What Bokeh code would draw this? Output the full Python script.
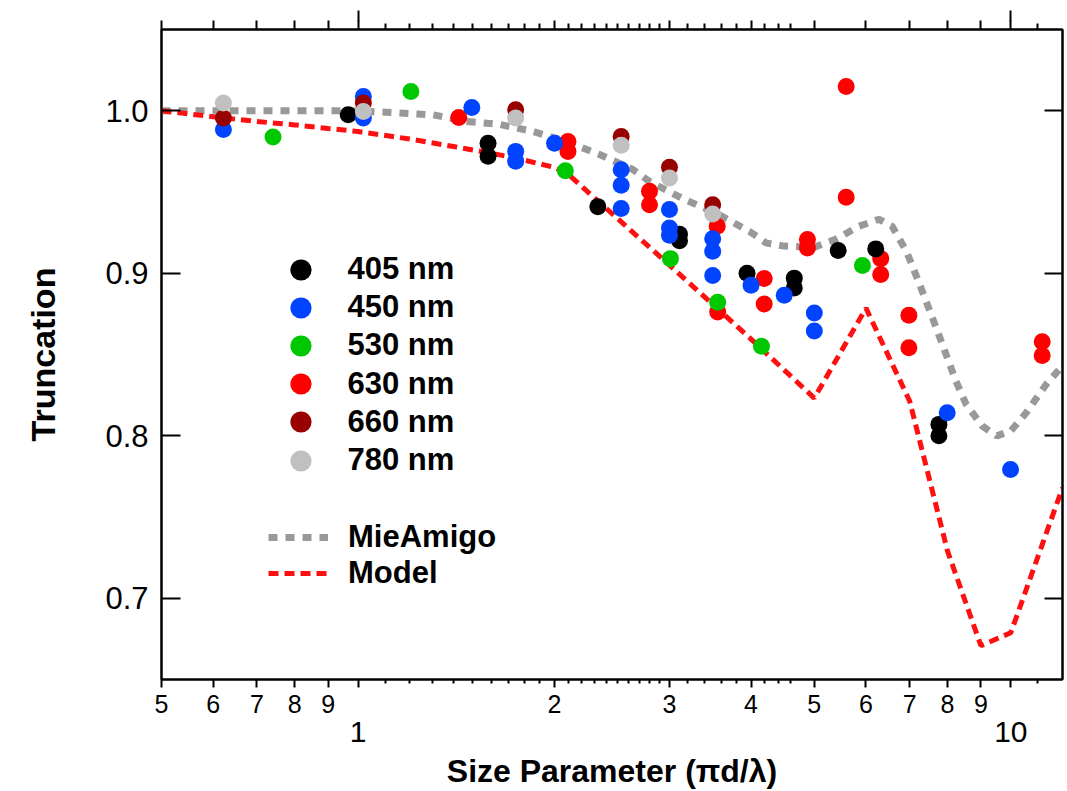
from bokeh.plotting import figure
from bokeh.models import (LogAxis, LinearAxis, FixedTicker, Legend, LegendItem,
                          PrintfTickFormatter, BasicTickFormatter)
from bokeh.embed import file_html
from bokeh.resources import INLINE

# ---------------- data ----------------
x405 = [0.966, 1.582, 1.582, 2.33, 3.108, 3.108, 3.944, 4.659, 4.659, 5.439, 6.21, 7.76, 7.76]
y405 = [0.9975, 0.980, 0.972, 0.941, 0.924, 0.920, 0.900, 0.897, 0.891, 0.914, 0.915, 0.807, 0.800]

x450 = [0.622, 1.019, 1.019, 1.494, 1.744, 1.744, 2.0, 2.53, 2.53, 2.53, 3.0, 3.0, 3.0,
        3.494, 3.494, 3.494, 4.0, 4.497, 5.0, 5.0, 7.99, 9.99]
y450 = [0.9885, 1.0088, 0.9955, 1.002, 0.975, 0.969, 0.980, 0.9637, 0.9541, 0.9398, 0.9392,
        0.9278, 0.9234, 0.9213, 0.9135, 0.8986, 0.8926, 0.8865, 0.8756, 0.8644, 0.8141, 0.7793]

x530 = [0.741, 1.205, 2.078, 3.01, 3.556, 4.15, 5.925]
y530 = [0.9838, 1.0119, 0.9631, 0.909, 0.8822, 0.8551, 0.9047]

x630 = [1.427, 2.097, 2.097, 2.796, 2.796, 3.55, 3.556, 4.19, 4.19, 4.88, 4.88, 5.595, 5.595,
        6.32, 6.32, 6.98, 6.98, 11.17, 11.17]
y630 = [0.9959, 0.9811, 0.975, 0.9504, 0.9422, 0.9289, 0.8762, 0.8967, 0.8811, 0.9207, 0.9156,
        1.0149, 0.9467, 0.909, 0.8992, 0.8742, 0.8541, 0.8578, 0.8494]

x660 = [0.622, 1.019, 1.744, 2.53, 3.0, 3.494]
y660 = [0.9955, 1.0047, 1.0006, 0.9842, 0.9652, 0.9422]

x780 = [0.622, 1.019, 1.744, 2.53, 3.0, 3.494]
y780 = [1.0047, 0.9996, 0.9955, 0.9787, 0.9586, 0.9364]

mie_x = [0.5, 1.0, 1.302, 1.468, 1.648, 1.852, 2.087, 2.344, 2.633, 2.795, 3.14, 3.54, 3.976,
         4.222, 4.5, 5.0, 5.4, 5.85, 6.28, 6.58, 6.92, 7.25, 7.69, 8.24, 8.54, 9.04, 9.52, 10.0,
         10.55, 11.34, 12.0]
mie_y = [1.0, 1.0, 0.9975, 0.9934, 0.9916, 0.9873, 0.9811, 0.9731, 0.964, 0.9565, 0.946, 0.9369,
         0.9258, 0.9186, 0.9167, 0.916, 0.921, 0.9289, 0.9332, 0.9289, 0.9135, 0.8932, 0.8662,
         0.8336, 0.8195, 0.806, 0.7999, 0.803, 0.814, 0.8318, 0.843]

model_x = [0.5, 0.6, 0.7, 0.8, 0.9, 1.0, 1.2, 1.4, 1.6, 1.8, 2.0, 2.1, 3.0, 4.0, 5.0, 6.0, 7.0,
           8.0, 9.0, 10.0, 12.0]
model_y = [1.0, 0.9963, 0.9934, 0.9913, 0.9891, 0.9872, 0.9826, 0.978, 0.9739, 0.9696, 0.9651,
           0.9608, 0.905, 0.8595, 0.8232, 0.8785, 0.8213, 0.729, 0.6708, 0.6788, 0.768]

labeled_ticks = [0.5, 0.6, 0.7, 0.8, 0.9, 2, 3, 4, 5, 6, 7, 8, 9]
labeled_text = ["5", "6", "7", "8", "9", "2", "3", "4", "5", "6", "7", "8", "9"]
decade_ticks = [1, 10]
minor_ticks = [1.1, 1.2, 1.3, 1.4, 1.5, 1.6, 1.7, 1.8, 1.9,
               2.1, 2.2, 2.3, 2.4, 2.5, 2.6, 2.7, 2.8, 2.9,
               3.2, 3.4, 3.6, 3.8, 4.2, 4.4, 4.6, 11]
y_ticks = [0.7, 0.8, 0.9, 1.0]

series_labels = ["405 nm", "450 nm", "530 nm", "630 nm", "660 nm", "780 nm"]
line_labels = ["MieAmigo", "Model"]

FONT = "Liberation Sans"

# ---------------- figure ----------------
p = figure(width=1067, height=791, x_axis_type="log", x_range=(0.5, 12), y_range=(0.65, 1.05),
           output_backend="svg", toolbar_location=None,
           min_border_left=161, min_border_right=5, min_border_top=29, min_border_bottom=112)
p.xgrid.visible = False
p.ygrid.visible = False
p.outline_line_color = "black"
p.outline_line_width = 2
p.background_fill_color = "white"
p.border_fill_color = "white"

def style_common(ax):
    ax.axis_line_color = "black"
    ax.axis_line_width = 2
    ax.major_tick_line_color = "black"
    ax.major_tick_line_width = 2
    ax.minor_tick_line_color = "black"
    ax.minor_tick_line_width = 2
    ax.major_label_text_color = "black"
    ax.major_label_text_font = FONT

def hide_labels(ax, ticks):
    ax.major_label_overrides = {t: "" for t in ticks}
    ax.major_label_text_font_size = "0px"
    ax.major_label_standoff = 0

# bottom axis 1: labelled ticks
a1 = p.xaxis[0]
style_common(a1)
a1.ticker = FixedTicker(ticks=labeled_ticks + decade_ticks, minor_ticks=minor_ticks)
ov = {t: s for t, s in zip(labeled_ticks, labeled_text)}
ov.update({t: "" for t in decade_ticks})
a1.major_label_overrides = ov
a1.major_tick_in = 0
a1.major_tick_out = 8
a1.minor_tick_in = 0
a1.minor_tick_out = 4
a1.major_label_text_font_size = "25px"
a1.major_label_standoff = 7

# bottom axis 2: decade labels and title
a2 = LogAxis(ticker=FixedTicker(ticks=decade_ticks, minor_ticks=[]), formatter=BasicTickFormatter())
style_common(a2)
a2.axis_line_color = None
a2.major_tick_line_color = None
a2.minor_tick_line_color = None
a2.major_tick_in = 0
a2.major_tick_out = 0
a2.major_label_standoff = 6
a2.major_label_text_font_size = "30px"
a2.axis_label = "Size Parameter (\u03c0d/\u03bb)"
a2.axis_label_text_font = FONT
a2.axis_label_text_font_style = "bold"
a2.axis_label_text_font_size = "32px"
a2.axis_label_text_color = "black"
a2.axis_label_standoff = 8
p.add_layout(a2, "below")

# top axis 1
t1 = LogAxis(ticker=FixedTicker(ticks=labeled_ticks + decade_ticks, minor_ticks=minor_ticks))
style_common(t1)
hide_labels(t1, labeled_ticks + decade_ticks)
t1.major_tick_in = 0
t1.major_tick_out = 9
t1.minor_tick_in = 0
t1.minor_tick_out = 6
p.add_layout(t1, "above")

# top axis 2: long decade ticks
t2 = LogAxis(ticker=FixedTicker(ticks=decade_ticks, minor_ticks=[]))
style_common(t2)
hide_labels(t2, decade_ticks)
t2.axis_line_color = None
t2.minor_tick_line_color = None
t2.major_tick_in = 1
t2.major_tick_out = 10
p.add_layout(t2, "above")

# left axis
ly = p.yaxis[0]
style_common(ly)
ly.ticker = FixedTicker(ticks=y_ticks, minor_ticks=[])
ly.formatter = PrintfTickFormatter(format="%.1f")
ly.major_tick_in = 19
ly.major_tick_out = 0
ly.minor_tick_line_color = None
ly.major_label_text_font_size = "31px"
ly.major_label_standoff = 13
ly.axis_label = "Truncation"
ly.axis_label_text_font = FONT
ly.axis_label_text_font_style = "bold"
ly.axis_label_text_font_size = "34px"
ly.axis_label_text_color = "black"
ly.axis_label_standoff = 40

# right axis
ry = LinearAxis(ticker=FixedTicker(ticks=y_ticks, minor_ticks=[]))
style_common(ry)
hide_labels(ry, y_ticks)
ry.major_tick_in = 18
ry.major_tick_out = 0
ry.minor_tick_line_color = None
p.add_layout(ry, "right")

# ---------------- glyphs ----------------
r_mie = p.line(mie_x, mie_y, line_color="#999999", line_width=7, line_dash="9 8")
r_mod = p.line(model_x, model_y, line_color="#ff1010", line_width=5, line_dash="10 6")

S = 17
r630 = p.scatter(x630, y630, size=S, fill_color="#ff0000", line_color=None)
r405 = p.scatter(x405, y405, size=S, fill_color="#000000", line_color=None)
r450 = p.scatter(x450, y450, size=S, fill_color="#0044ff", line_color=None)
r530 = p.scatter(x530, y530, size=S, fill_color="#00c800", line_color=None)
r660 = p.scatter(x660, y660, size=S, fill_color="#990000", line_color=None)
r780 = p.scatter(x780, y780, size=S, fill_color="#c0c0c0", line_color=None)

def mk_legend(items, loc, gw, gh, standoff):
    lg = Legend(items=items, location=loc, glyph_width=gw, glyph_height=gh, label_height=gh,
                spacing=0, label_standoff=standoff, padding=0, margin=0,
                border_line_color=None, background_fill_alpha=0)
    lg.label_text_font = FONT
    lg.label_text_font_style = "bold"
    lg.label_text_font_size = "31px"
    lg.label_text_color = "black"
    return lg

# one legend per point series so that the rows can sit closer than the marker box
point_renderers = [r405, r450, r530, r630, r660, r780]
row_top = 383.5   # screen offset of first legend box bottom from frame bottom
row_pitch = 38.2
for i, (lab, rr) in enumerate(zip(series_labels, point_renderers)):
    lg = mk_legend([LegendItem(label=lab, renderers=[rr])],
                   (112.5, row_top - i * row_pitch), 53, 53, 21)
    p.add_layout(lg, "center")

leg2 = mk_legend([LegendItem(label=line_labels[0], renderers=[r_mie]),
                  LegendItem(label=line_labels[1], renderers=[r_mod])],
                 (107, 88), 60, 36, 20)
p.add_layout(leg2, "center")

open("out.html", "w").write(file_html(p, INLINE))
